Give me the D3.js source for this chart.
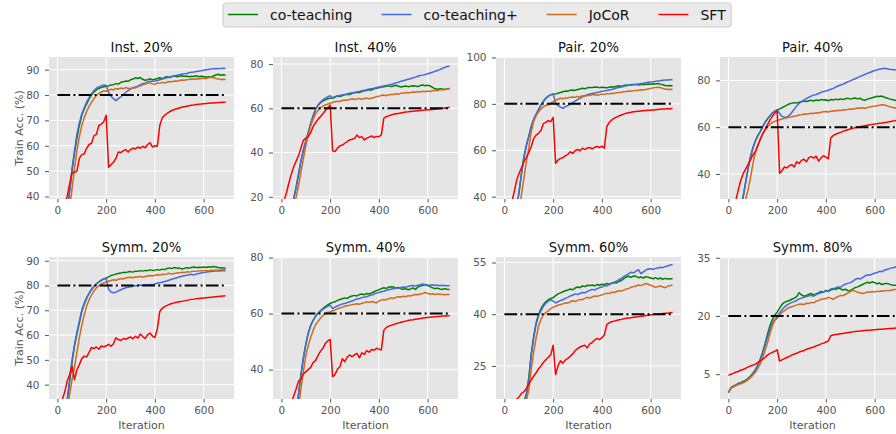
<!DOCTYPE html>
<html>
<head>
<meta charset="utf-8">
<script src="https://cdn.jsdelivr.net/npm/d3@7/dist/d3.min.js"></script>
<style>
  body { margin: 0; background: #fff; }
  svg { display: block; font-family: "DejaVu Sans", sans-serif; }
</style>
</head>
<body>
<div id="wrapper"></div>
<script>
// iterations on the x axis
const iterations = [0,10,20,30,40,50,60,70,80,90,100,110,120,130,140,150,160,170,180,190,
  200,210,220,230,240,250,260,270,280,290,300,310,320,330,340,350,360,370,380,390,
  400,410,420,430,440,450,460,470,480,490,500,510,520,530,540,550,560,570,580,590,
  600,610,620,630,640,650,660,670,680,690];

const methods = ["co-teaching", "co-teaching+", "JoCoR", "SFT"];
const colors = ["#008000", "#4169E1", "#D2691E", "#FF0000"];

const titles = ["Inst. 20%", "Inst. 40%", "Pair. 20%", "Pair. 40%", "Symm. 20%", "Symm. 40%", "Symm. 60%", "Symm. 80%"];
const refLines = [80, 60, 80, 60, 80, 60, 40, 20];
const xTicks = [0, 200, 400, 600];
const yTicks = [[40,50,60,70,80,90], [20,40,60,80], [40,60,80,100], [40,60,80],
  [40,50,60,70,80,90], [40,60,80], [25,40,55], [5,20,35]];
const yDomains = [[39,95], [19,83.2], [39,100.2], [29.3,90], [34.2,91.5], [29.5,80.2], [15.4,56.6], [-1.4,35.2]];

// Inst. 20%
const inst20CoTeaching = [12,15,20,27,34,42,50,57,63,68, 72,74.5,76.5,78.5,80,81.2,82,82.6,83,83.3, 83.5,83.6,84,84.1,84.5,84.3,85,85.2,85.5,85.4, 86,86.3,86.8,86.5,86.9,86.2,85.8,86,86.4,86, 86.2,86.5,86.8,86.4,87,87.2,86.9,87.3,87.5,87.2, 87.4,87.6,87.3,87.5,87.2,87.4,87.3,87.6,87.2,87.4, 87.3,87,87.2,87,87.5,87.9,88.2,87.8,88,87.8];
const inst20CoTeachingPlus = [11,14,19,26,34,42,51,58,64.5,69, 72.5,75,77.2,79,80.5,81.8,82.7,83.3,83.6,84, 83.8,81,79.5,78.5,77.8,78.6,79.3,80.2,81,81.8, 82.3,82.8,83.2,83.5,84,84.5,84.8,85.2,85.3,85.4, 85.5,85.7,86,86.3,86.6,86.8,87.1,87.3,87.5,87.8, 88,88.2,88.4,88.5,88.8,89,89.1,89.3,89.5,89.6, 89.8,90,90.1,90.3,90.4,90.5,90.4,90.5,90.6,90.5];
const inst20JoCoR = [10,12,16,21,28,35,43,51,58,63.5, 68,71,73.5,75.5,77.2,78.6,79.8,80.6,81.2,81.6, 81.5,81.8,82.3,82,82.6,82.3,82.8,82.5,82.9,82.7, 82.5,83,82.8,83.3,83.6,84,84.3,84.5,84.8,84.4, 84.2,84.8,84.6,85,84.7,85.1,85.3,85.2,85.5,85.4, 85.7,85.9,85.8,86,86.1,86.3,86.2,86.4,86.3,86.5, 86.6,86.5,86.8,87,86.8,86.5,86.3,86.1,86.2,86.1];
const inst20SFT = [28,31,34,37,40,45,49.5,49.5,50,55, 56.5,56.8,59,60.5,61,64,64.5,68,68.5,69.5, 72,51.5,52.5,53.5,55,57.5,57.3,58,58.5,57.5, 58.5,59,58.8,59.5,59,59.8,59.2,60.5,61.2,59.5, 60,59.8,68,71,72,72.8,73.4,73.9,74.3,74.6, 74.9,75.2,75.4,75.6,75.8,76,76.1,76.3,76.4,76.5, 76.6,76.7,76.8,76.85,76.9,77,77.05,77.1,77.15,77.2];

// Inst. 40%
const inst40CoTeaching = [0,3,7,11,15,19,24,30,36,41, 45,49,53,56.5,59.5,61.3,62.5,63.3,63.8,64.3, 64.5,64.8,65.2,65.6,65.3,65.8,66.1,66.4,66.2,66.8, 67,67.3,67.1,67.6,67.9,68.1,68.4,68.3,68.8,69.1, 69.3,69.6,69.8,70,70.2,69.8,70.1,70.4,70,69.6, 69.9,70.1,69.8,70,70.2,70.1,69.8,70.3,70.5,70.2, 70.4,70.1,69.5,68.8,68.6,68.9,68.7,68.5,68.8,69];
const inst40CoTeachingPlus = [0,3,7,11,15,19,24,30,36,41, 45,49,53,56.5,59.5,61.5,62.8,63.8,64.6,65.2, 65.7,64.5,65,65.6,65.8,66,66.2,66.5,66.8,67, 67.2,67.5,67.6,67.9,68.2,68.4,68.7,68.9,69.1,69.4, 69.6,69.9,70.1,70.3,70.5,70.8,71.1,71.5,71.8,72.2, 72.5,72.8,73.1,73.4,73.8,74.1,74.5,74.8,75,75.3, 75.6,76,76.3,76.7,77.1,77.5,78,78.5,78.9,79];
const inst40JoCoR = [0,2,5,8,11,15,19.5,25,31,37, 43,48,52,55,57.5,59,60.2,61,61.5,61.9, 62.3,62.7,63,63.2,63.1,63.5,63.8,63.6,64,64.3, 64,64.2,64.5,64.1,64.4,64.6,64.3,64.5,64.9,65.3, 65.5,65.8,66,65.7,66.1,66.3,66.2,66.6,66.4,66.8, 66.9,67.1,66.9,67.2,67.4,67.3,67.6,67.4,67.7,67.5, 67.8,67.6,67.9,68.1,68,68.3,68.5,68.4,68.7,68.8];
const inst40SFT = [15,18,21.5,26,30,33.5,36,38.5,42,45.5, 46.5,47.2,49,51.7,53.5,55,56.2,57.5,59,60, 61.5,40.8,40.4,42,43,43.4,44.2,45,45.7,46, 46.4,47.9,46.8,47.2,45.7,46.5,47,47.5,46.8,47.3, 47.2,48,55.5,56.2,56.6,57,57.3,57.5,57.7,57.9, 58.1,58.3,58.4,58.6,58.7,58.8,58.9,59,59.1,59.2, 59.3,59.4,59.5,59.6,59.7,59.8,59.9,60.1,60.3,60.5];

// Pair. 20%
const pair20CoTeaching = [5,9,14,20,27,35,42,50,57,62, 66,70,73,75.5,77.5,79.5,81,82.3,83.3,83.9, 84.1,84.3,84.6,84.9,85.2,85.5,85.4,85.9,86,85.8, 86.2,86.4,86.7,86.5,86.9,87.1,87,87.3,87.2,87, 87.2,87.1,86.9,87.2,87.4,87.3,87.6,87.8,87.5,87.9, 88.1,88,88.3,88.2,88.4,88.1,88.3,88.5,88.4,88.6, 88.5,88.7,88.6,88.8,88.5,88.2,87.9,87.8,87.9,87.7];
const pair20CoTeachingPlus = [5,9,14,20,27,35,42,50,57,62, 66,70.5,73.5,75.5,77.5,79.5,81.2,82.5,83.4,83.9, 84.3,80.3,79.3,78.6,78.1,78.8,79.3,79.8,80.5,81.2, 81.8,82.4,83,83.5,83.9,84.3,84.5,84.7,84.9,85.1, 85.4,85.6,85.8,86,86.2,86.5,86.8,87.1,87.3,87.6, 87.8,88,88.1,88.3,88.5,88.6,88.8,88.9,89.1,89.3, 89.4,89.5,89.7,89.9,90,90.2,90.3,90.3,90.4,90.4];
const pair20JoCoR = [3,6,10,15,21,28,34,41,48,55, 61,68,72.5,74.8,76.6,77.8,78.8,79.3,79.6,80.2, 81,81.6,82,82.4,82.2,82.6,82.5,82.9,83,82.8, 83.2,83,83.5,83.3,83.7,83.6,83.9,84,83.7,83.9, 84.2,84,84.4,84.3,84.6,84.5,84.8,84.9,85,85.2, 85.3,85.5,85.4,85.7,85.8,85.9,86.1,86,86.2,86.4, 86.6,86.9,87,87.2,87.1,86.6,86.4,86.2,86.3,86.2];
const pair20SFT = [22,27,32,37.5,42,47,50,52.5,55,57, 59,61.5,65,66.5,67.3,68.5,71.5,72,72.8,72.3, 74.2,54.4,55.8,56.5,56.8,57.6,58.2,59.4,58.6,59.8, 60.4,59.8,60.9,60.3,61,61.2,60.6,61.3,61.6,61.2, 61.8,60.9,70.2,72,73,73.8,74.3,74.8,75.2,75.6, 76,76.2,76.4,76.6,76.7,76.8,76.9,77,77.1,77.2, 77.3,77.4,77.5,77.6,77.7,77.75,77.8,77.9,77.95,78];

// Pair. 40%
const pair40CoTeaching = [0,3,7,12,18,24,30,36,42,47, 51,54,56.3,58,60,62,63.5,64.8,66,66.8, 67.4,67.8,68.3,68.9,69.4,70,70.2,70.5,70.3,70.7, 70.9,71.2,71,71.3,71.5,71.2,71.6,71.4,71.8,71.6, 71.7,71.3,71.8,71.6,72,71.7,72.1,71.8,72.2,72.4, 72,72.3,72.5,72.1,72.4,71.7,71.5,72,72.3,72.6, 72.9,73.2,73.1,73.3,72.8,72.5,72.1,71.8,71.6,71.4];
const pair40CoTeachingPlus = [0,3,7,12,18,24,30,36,42,47, 51,54,56.3,58,60,62,63.5,64.8,66,66.8, 67.4,65.8,64.6,64.2,64.3,65,66.3,67.7,69,70.2, 71,71.6,72.2,72.8,73.3,73.7,74,74.4,74.9,75.2, 75.5,75.8,76.2,76.6,77.1,77.6,78,78.4,78.9,79.4, 79.8,80.3,80.7,81.2,81.7,82.1,82.6,83,83.4,83.8, 84.2,84.5,84.8,85,85.2,85,84.8,84.7,84.6,84.6];
const pair40JoCoR = [0,2,5,9,14,19,24,29,33,38, 44,49,52,55,57,58.5,60,61.2,62,62.5, 62.9,63.2,63.5,63.8,64,64.2,64.5,64.7,64.9,65.2, 65.3,65.6,65.5,65.8,66,65.9,66.2,66.1,66.4,66.6, 66.7,66.5,66.8,67,66.9,67.2,67.1,67.4,67.3,67.6, 67.8,67.7,68,68.2,68.1,68.3,68,68.4,68.6,68.8, 69,69.2,69.4,69.6,69.5,69.2,68.8,68.5,68.3,68.1];
const pair40SFT = [17,21,25,28.5,33,37,40,42,44,46, 48,49.5,52,54.5,57,59,61,63,64.5,66, 67,40.3,41.5,43,42.6,43.5,44,43,45.2,44.5, 45.8,46.3,45.2,47,47.4,46.8,47.6,45.5,46.9,47.8, 47.2,46.5,55.5,56.4,57,57.4,57.8,58.2,58.6,58.9, 59.2,59.5,59.8,60,60.2,60.4,60.6,60.8,61,61.2, 61.4,61.5,61.7,61.8,62,62.1,62.3,62.5,62.7,62.9];

// Symm. 20%
const symm20CoTeaching = [5,10,16,24,33,41,49,55.5,60.5,65, 69.5,72.5,75,76.8,78.4,79.7,80.7,81.5,82.2,82.6, 83,83.5,84,84.3,84.6,84.8,85,85.3,85.2,85.5, 85.6,85.4,85.8,85.7,86,85.8,86.1,86,86.3,86.1, 86.2,86.4,86.2,86.6,86.4,86.9,87.1,86.8,87.3,87, 87.1,86.7,86.9,87.2,87,87.3,87.5,87.2,87.4,87.3, 87.5,87.3,87.6,87.4,87.7,87.5,87.3,87.2,87.1,87];
const symm20CoTeachingPlus = [5,10,16,24,34,42,50,56,61,65.5, 70,72.8,75,76.8,78.4,79.6,80.6,81.4,82.1,82.6, 82.9,78.5,77.4,77.1,77.3,77.8,78.3,78.7,79.1,79.3, 79.5,79.7,79.9,80,80.2,80.1,80.3,80.2,80.4,80.3, 80.6,80.9,81.1,81.3,81.6,81.8,82.2,82.5,82.8,83.1, 83.4,83.7,83.9,84.1,84.3,84.5,84.2,84.6,84.8,85, 85.2,85.4,85.5,85.6,85.7,85.8,85.9,85.9,86,86];
const symm20JoCoR = [4,8,13,20,28,36,42,47,53,59, 64,68,71.8,74.2,76.2,77.8,79,79.9,80.5,81, 81.4,81.7,82,82.3,82.1,82.5,82.8,82.6,83,83.2, 83.3,83.1,83.5,83.4,83.7,83.3,83.6,83.8,84,83.8, 84.1,84.3,84.2,84.5,84.4,84.7,84.9,84.6,84.8,85, 85.1,85.3,85.2,85.5,85.4,85.6,85.8,85.7,85.9,86, 86,86.1,85.9,86.2,86.1,86.3,86.2,86.4,86.3,86.3];
const symm20SFT = [28,31,34,37,41.4,44,47.5,42,46,48, 50.5,51.5,51.2,53,55,54.5,55.2,54.3,55.6,55.3, 55.6,56.2,55.5,56.5,58.9,58.2,57.8,58.6,58.3,58.8, 59.2,58.5,59.5,58.8,60.4,59.4,58.6,60.2,60.8,59.6, 59,62.5,69.5,70.8,71.5,72,72.4,72.7,73,73.2, 73.4,73.6,73.8,74,74.2,74.4,74.5,74.7,74.8,74.9, 75,75.1,75.2,75.3,75.4,75.5,75.6,75.7,75.8,75.9];

// Symm. 40%
const symm40CoTeaching = [0,3,6,10,14,19,24,31,38,44, 49,53,55.7,57.6,59,60.2,61,61.8,62.5,63.1, 63.6,64,64.2,64.7,65,65.3,65.6,65.4,66,66.3, 66.5,66.3,66.8,67,66.7,67.2,67,67.4,67.8,68.2, 68.5,68.9,69.2,69,69.4,69.6,69.5,69.1,69.3,68.9, 68.7,68.9,68.5,68.8,69.2,68.6,69.5,69.8,70.1,70.3, 70,69.6,69.2,68.9,69.1,68.8,68.6,68.9,68.7,68.6];
const symm40CoTeachingPlus = [0,3,6,10,14,19,24,31,38,44, 49,53,55.7,57.6,59,60,60.8,61.5,62.1,62.6, 63,61.8,62.3,62.7,63.1,63.4,63.6,63.9,64.2,64.5, 64.9,65.2,65.4,65.7,65.9,66,66.4,66.6,67,67.3, 67.5,67.8,68,68.3,68.5,68.7,68.9,69.1,69,69.3, 69.5,69.4,69.7,69.9,70,69.8,70.1,70.3,70.6,70.4, 70.2,70.1,70.3,70,70.2,69.9,70.1,70,69.9,70];
const symm40JoCoR = [0,2,4,7,11,15,20,26,33,39, 45,48.5,51.5,54,56,57.2,58.3,59.2,60,60.5, 60.6,61,61.3,61.7,62,62.3,62.6,62.8,63,63.2, 63.3,63.5,63.3,63.7,63.9,64.2,64,64.3,64.1,63.8, 64.5,64.8,65,64.9,65.3,65.6,65.4,65.8,66,65.9, 66.2,66,66.4,66.3,66.6,66.8,66.7,67,67.2,67.5, 67.2,66.9,67.1,66.8,67,66.9,66.8,66.7,66.8,66.8];
const symm40SFT = [18,20.5,23,25.5,28,30.5,33,35.8,36.5,38.5, 39.2,40,40.8,42.5,43.2,45,46.5,47.6,49.3,50.2, 50.8,37.5,38.2,40.2,41,43.9,42.8,44.5,45.2,44.6, 45.3,45.8,44.2,46,45.4,46.8,46.2,47.2,46.9,47.6, 47.3,47,54,55,55.5,55.8,56.1,56.4,56.6,56.9, 57.1,57.3,57.5,57.7,57.8,58,58.1,58.2,58.4,58.5, 58.6,58.7,58.8,58.9,59,59,59.1,59.1,59.2,59.2];

// Symm. 60%
const symm60CoTeaching = [0,1,3,5,7,9,11,12.8,14.6,16.8, 21.5,28.5,33.5,37.5,40,41.6,42.8,43.6,44.2,44.6, 44.8,45.4,45.9,46.2,46.5,46.8,47,47.3,47.1,47.6, 47.9,47.7,48.2,48,48.4,48.3,48.5,48.2,48.6,48.4, 48.7,48.6,48.9,48.8,49,49.2,49.1,49.5,49.8,50.3, 50.8,51,50.7,51.1,51,50.6,50.8,50.5,50.9,50.7, 50.5,50.3,50.6,50.2,50.5,50.1,50.4,50.2,50.3,50.3];
const symm60CoTeachingPlus = [0,1,3,5,7,9,11,12.5,14.2,16.2, 21,28,33,37,39.5,41,42.3,43.2,43.8,44.2, 43.8,43.3,43.6,44,44.2,44.6,44.9,45.3,45.5,45.9, 45.7,46,46.3,46.2,46.6,46.9,47.2,47,47.4,47.7, 47.9,48.3,48.2,48.6,48.9,49.2,49.6,50,50.4,50.9, 51.3,51.8,52.2,52,52.5,52.9,51.8,52.3,52.8,53.1, 53.2,53,53.3,53.4,53.6,53.5,53.8,54,54.3,54.4];
const symm60JoCoR = [0,1,2,4,6,8,10,11.5,13,15, 18,24,29,33,36.5,38.5,39.8,40.5,41,41.6, 42,42.3,42.6,42.8,43,43.3,43.2,43.6,43.9,43.7, 44,44.3,44.2,44.6,44.9,44.7,45,45.3,45.2,45.4, 45.6,45.9,46.1,46,46.4,46.3,46.6,46.8,46.7,47, 47.3,47.5,47.8,48,48.2,48.5,48.3,48.6,48.9,48.7, 48.4,48.1,47.8,48,48.2,47.9,47.7,48.1,48.3,48.4];
const symm60SFT = [10,11,12,13,14,15.3,16,17,17.5,18.5, 19.8,21,22,23,24.2,25,26,26.8,27.5,28.2, 31,22.5,25,26.5,25.8,26.7,27.2,27.8,28.5,29.4, 30,30.5,30.8,31,30.2,31.4,31.8,32.5,33,32.6, 33.2,34,37,37.5,37.8,38,38.2,38.4,38.5,38.7, 38.8,38.9,39,39.1,39.2,39.3,39.4,39.5,39.6,39.7, 39.8,39.9,40,40,40.1,40.2,40.3,40.3,40.4,40.5];

// Symm. 80%
const symm80CoTeaching = [0.3,1.5,1.9,2.2,2.6,2.8,3.1,3.4,3.9,4.5, 5.2,6.1,7.3,8.8,10.6,12.8,15.2,17.4,19,20.2, 21,22,23,23.5,23.8,24,24.3,24.6,25,26, 25.4,25.1,25.3,25.6,25.8,25.4,25.7,26,26.3,26.1, 26.6,26.4,26.9,27.1,26.8,27.2,27,26.7,26.9,26.5, 26.6,26.9,27.3,27.5,27.8,28.1,28.4,28.7,28.5,28.8, 28.6,28.3,28.5,28.1,28.3,28.4,28.2,28,27.9,27.9];
const symm80CoTeachingPlus = [0.3,1.4,1.8,2.1,2.4,2.6,2.9,3.3,3.8,4.4, 5.1,6,7.2,8.6,10.2,12.3,14.5,16.4,18,19, 19.8,20.8,21.6,22.3,22.8,23.2,23.5,23.7,24,24.4, 24.6,24.8,25,25.2,25.3,25.1,25.5,25.8,26,26.2, 26.5,26.3,26.7,26.9,27.2,27.5,27.4,27.9,28.2,28.4, 28.6,28.9,29.4,29.7,29.5,29.9,30.3,30.6,30.5,30.8, 31,31.2,31.5,31.4,31.8,32,32.2,32.4,32.5,32.7];
const symm80JoCoR = [0.2,1.3,1.7,2,2.3,2.5,2.8,3.1,3.5,4.1, 4.7,5.4,6.4,7.6,9,11,13,15.3,17.4,18.8, 19.4,20.2,20.9,21.4,21.8,22.2,22.4,22.6,22.8,23, 23.1,22.9,23.3,23.2,23.5,23.4,23.8,24,24.3,24.4, 24.5,24.8,24.6,24.3,24.7,25,25.3,25.2,25.6,25.9, 26.3,26.6,26.4,26.1,26,25.8,25.9,26.2,26.1,26.3, 26.2,26.4,26.3,26.5,26.4,26.6,26.5,26.7,26.8,26.8];
const symm80SFT = [4.7,5,5.2,5.5,5.7,6,6.2,6.5,6.8,7.1, 7.3,7.6,8,8.4,8.8,9.3,9.9,10.3,10.6,10.9, 11.3,8.4,8.7,9,9.3,9.6,9.9,10.2,10.4,10.7, 10.9,11.1,11.4,11.6,11.8,12,12.3,12.5,12.8,13, 13.3,13.6,14.9,15.1,15.2,15.3,15.4,15.5,15.6,15.7, 15.8,15.9,16,16.05,16.1,16.2,16.25,16.3,16.35,16.4, 16.45,16.5,16.55,16.6,16.65,16.7,16.75,16.8,16.85,16.9];

const panelSeries = [
  [inst20CoTeaching, inst20CoTeachingPlus, inst20JoCoR, inst20SFT],
  [inst40CoTeaching, inst40CoTeachingPlus, inst40JoCoR, inst40SFT],
  [pair20CoTeaching, pair20CoTeachingPlus, pair20JoCoR, pair20SFT],
  [pair40CoTeaching, pair40CoTeachingPlus, pair40JoCoR, pair40SFT],
  [symm20CoTeaching, symm20CoTeachingPlus, symm20JoCoR, symm20SFT],
  [symm40CoTeaching, symm40CoTeachingPlus, symm40JoCoR, symm40SFT],
  [symm60CoTeaching, symm60CoTeachingPlus, symm60JoCoR, symm60SFT],
  [symm80CoTeaching, symm80CoTeachingPlus, symm80JoCoR, symm80SFT]
];

const dimension = {
  width: 896,
  height: 434,
  panelWidth: 185,
  panelHeight: 142,
  colLeft: [49, 273, 496, 720],
  rowTop: [57, 257]
};

const svg = d3.select("#wrapper").append("svg")
  .attr("width", dimension.width)
  .attr("height", dimension.height);

const xScaler = d3.scaleLinear()
  .domain([-34.5, 724.5])
  .range([0, dimension.panelWidth]);

const tickColor = "#555555";

panelSeries.forEach((series, i) => {
  const col = i % 4, row = Math.floor(i / 4);
  const bounded = svg.append("g")
    .attr("transform", `translate(${dimension.colLeft[col]}, ${dimension.rowTop[row]})`);

  const yScaler = d3.scaleLinear()
    .domain(yDomains[i])
    .range([dimension.panelHeight, 0]);

  bounded.append("rect")
    .attr("width", dimension.panelWidth)
    .attr("height", dimension.panelHeight)
    .attr("fill", "#E5E5E5");

  // grid
  bounded.selectAll(".gx").data(xTicks).join("line")
    .attr("x1", d => xScaler(d)).attr("x2", d => xScaler(d))
    .attr("y1", 0).attr("y2", dimension.panelHeight)
    .attr("stroke", "#fff").attr("stroke-width", 1);
  bounded.selectAll(".gy").data(yTicks[i]).join("line")
    .attr("x1", 0).attr("x2", dimension.panelWidth)
    .attr("y1", d => yScaler(d)).attr("y2", d => yScaler(d))
    .attr("stroke", "#fff").attr("stroke-width", 1);

  // axes
  const xAxis = d3.axisBottom(xScaler).tickValues(xTicks).tickSize(3.5).tickPadding(4.5);
  const yAxis = d3.axisLeft(yScaler).tickValues(yTicks[i]).tickSize(4).tickPadding(5.5);
  [bounded.append("g").attr("transform", `translate(0, ${dimension.panelHeight})`).call(xAxis),
   bounded.append("g").call(yAxis)].forEach(ax => {
    ax.select(".domain").remove();
    ax.selectAll(".tick line").attr("stroke", tickColor);
    ax.selectAll(".tick text")
      .attr("fill", tickColor)
      .style("font-size", "10.5px")
      .style("font-family", "DejaVu Sans, sans-serif");
  });

  // clip
  const clipId = "clip" + i;
  bounded.append("clipPath").attr("id", clipId)
    .append("rect").attr("width", dimension.panelWidth).attr("height", dimension.panelHeight);
  const plot = bounded.append("g").attr("clip-path", `url(#${clipId})`);

  const lineGenerator = d3.line()
    .x((d, j) => xScaler(iterations[j]))
    .y(d => yScaler(d));

  series.forEach((values, k) => {
    plot.append("path")
      .attr("d", lineGenerator(values))
      .attr("fill", "none")
      .attr("stroke", colors[k])
      .attr("stroke-width", 1.5)
      .attr("stroke-linejoin", "round");
  });

  plot.append("line")
    .attr("x1", xScaler(iterations[0]))
    .attr("x2", xScaler(iterations[iterations.length - 1]))
    .attr("y1", yScaler(refLines[i]))
    .attr("y2", yScaler(refLines[i]))
    .attr("stroke", "#000")
    .attr("stroke-width", 2)
    .attr("stroke-dasharray", "12.8,3.2,2,3.2");

  bounded.append("text")
    .attr("x", dimension.panelWidth / 2)
    .attr("y", -5.5)
    .attr("text-anchor", "middle")
    .attr("fill", "#111")
    .style("font-size", "13.2px")
    .text(titles[i]);

  if (col === 0) {
    bounded.append("text")
      .attr("transform", `translate(${19 - dimension.colLeft[col]}, ${dimension.panelHeight / 2}) rotate(-90)`)
      .attr("text-anchor", "middle")
      .attr("dy", "0.35em")
      .attr("fill", tickColor)
      .style("font-size", "11px")
      .text("Train Acc. (%)");
  }
  if (row === 1) {
    bounded.append("text")
      .attr("x", dimension.panelWidth / 2)
      .attr("y", dimension.panelHeight + 26.5)
      .attr("dy", "0.35em")
      .attr("text-anchor", "middle")
      .attr("fill", tickColor)
      .style("font-size", "11px")
      .text("Iteration");
  }
});

// legend
const legend = svg.append("g").attr("transform", "translate(223, 3)");
const legendBox = legend.append("rect")
  .attr("height", 24)
  .attr("rx", 3)
  .attr("fill", "#EAEAEA")
  .attr("stroke", "#CCCCCC");
let cursor = 5;
methods.forEach((name, k) => {
  legend.append("line")
    .attr("x1", cursor).attr("x2", cursor + 30)
    .attr("y1", 11.5).attr("y2", 11.5)
    .attr("stroke", colors[k]).attr("stroke-width", 1.5);
  const label = legend.append("text")
    .attr("x", cursor + 42)
    .attr("y", 11.5)
    .attr("dy", "0.36em")
    .attr("fill", "#111")
    .style("font-size", "14px")
    .text(name);
  cursor += 42 + label.node().getComputedTextLength() + (k < methods.length - 1 ? 29 : 5.5);
});
legendBox.attr("width", cursor);
</script>
</body>
</html>
